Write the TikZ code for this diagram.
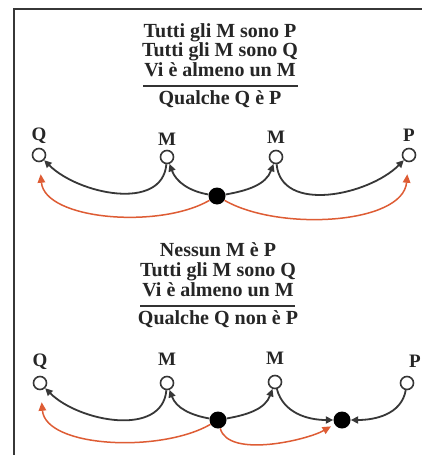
\documentclass[tikz,border=0pt]{standalone}
\usepackage{fontspec}
\setmainfont{Liberation Serif}
\usetikzlibrary{arrows.meta}
\definecolor{redline}{RGB}{222,92,52}
\definecolor{darkline}{RGB}{55,55,55}
\begin{document}
\begin{tikzpicture}[x=1pt,y=1pt,
  txt/.style={font=\fontsize{20}{22}\selectfont\bfseries, text=black!85, inner sep=0pt, text height=12.5pt, text depth=4pt},
  lbl/.style={font=\fontsize{19}{21}\selectfont\bfseries, text=black!85, inner sep=0pt},
  opennode/.style={circle, draw=darkline, line width=1.6pt, fill=white, minimum size=13pt, inner sep=0pt},
  dotnode/.style={circle, fill=black, minimum size=17pt, inner sep=0pt},
  arc/.style={draw=darkline, line width=1.8pt, -{Triangle[length=7.5pt,width=7pt]}},
  redarc/.style={draw=redline, line width=1.5pt, -{Triangle[length=8.5pt,width=7.5pt]}},
  rule/.style={draw=black!80, line width=1.2pt},
  frame/.style={draw=darkline, line width=1.3pt}]
\useasboundingbox (0,0) rectangle (422,-455);
\fill[white] (0,0) rectangle (422,-455);
% frame
\coordinate (ftl) at (14,-9);
\coordinate (ftr) at (422,-9);
\coordinate (fbl) at (14,-455);
\draw[frame] (ftr) -- (ftl) -- (fbl);

% ---------- top syllogism ----------
\node[txt] (t1) at (220,-33) {Tutti gli M sono P};
\node[txt] (t2) at (220,-52) {Tutti gli M sono Q};
\node[txt] (t3) at (220,-72) {Vi è almeno un M};
\node[txt] (t4) at (220,-100) {Qualche Q è P};
\coordinate (r1a) at (143,-86);
\coordinate (r1b) at (298,-86);
\draw[rule] (r1a) -- (r1b);

\node[opennode] (q1) at (39,-155) {};
\node[opennode] (m1) at (167,-157) {};
\node[opennode] (m2) at (276,-157) {};
\node[opennode] (p1) at (409,-155) {};
\node[dotnode] (d1) at (217,-196) {};
\node[lbl] (lq1) at (39,-136) {Q};
\node[lbl] (lm1) at (167,-139) {M};
\node[lbl] (lm2) at (276,-137) {M};
\node[lbl] (lp1) at (409,-135) {P};

\draw[arc] (m1) to[out=-95,in=-45] (q1);
\draw[arc] (d1) to[out=170,in=-70] (m1);
\draw[arc] (d1) to[out=10,in=-110] (m2);
\draw[arc] (m2) to[out=-85,in=-135] (p1);
\draw[redarc, shorten >=12pt] (d1) to[out=-150,in=-85,looseness=0.85] (q1);
\draw[redarc, shorten >=12pt] (d1) to[out=-30,in=-95,looseness=0.85] (p1);

% ---------- bottom syllogism ----------
\node[txt] (b1) at (218,-252) {Nessun M è P};
\node[txt] (b2) at (218,-272) {Tutti gli M sono Q};
\node[txt] (b3) at (218,-292) {Vi è almeno un M};
\node[txt] (b4) at (218,-320) {Qualche Q non è P};
\coordinate (r2a) at (140,-306);
\coordinate (r2b) at (295,-306);
\draw[rule] (r2a) -- (r2b);

\node[opennode] (q2) at (40,-383) {};
\node[opennode] (n1) at (167,-383) {};
\node[opennode] (n2) at (275,-382) {};
\node[opennode] (p2) at (407,-383) {};
\node[dotnode] (e1) at (218,-420) {};
\node[dotnode] (e2) at (342,-420) {};
\node[lbl] (lq2) at (40,-362) {Q};
\node[lbl] (ln1) at (167,-359) {M};
\node[lbl] (ln2) at (275,-358) {M};
\node[lbl] (lp2) at (415,-361) {P};

\draw[arc] (n1) to[out=-95,in=-45] (q2);
\draw[arc] (e1) to[out=170,in=-70] (n1);
\draw[arc] (e1) to[out=10,in=-110] (n2);
\draw[arc] (n2) to[out=-75,in=180] (e2);
\draw[arc] (p2) to[out=-100,in=0] (e2);
\draw[redarc, shorten >=12pt] (e1) to[out=-150,in=-85,looseness=0.85] (q2);
\draw[redarc, shorten >=4pt] (e1) to[out=-75,in=-150,looseness=0.7] (e2);
\end{tikzpicture}
\end{document}
